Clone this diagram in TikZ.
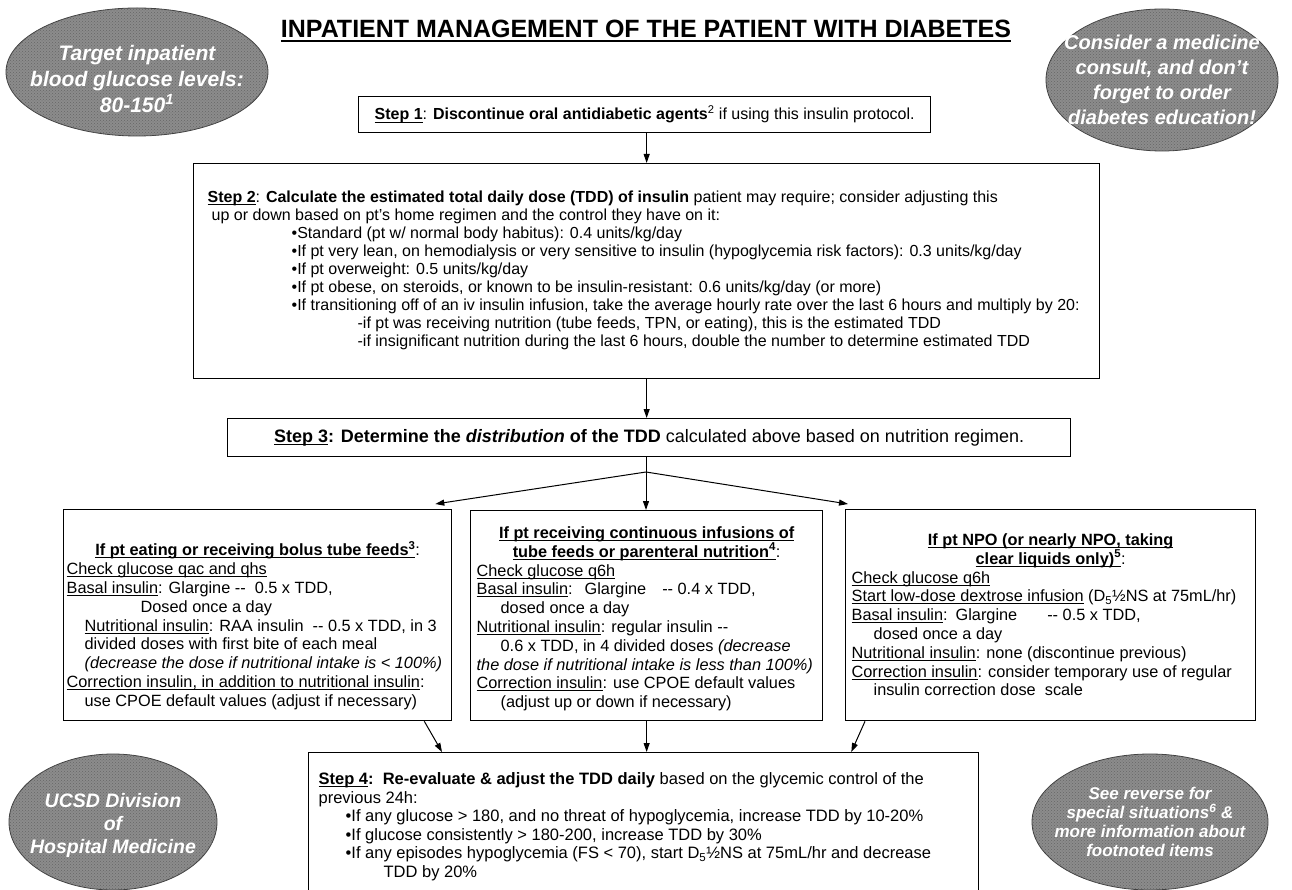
\documentclass[tikz,border=0pt]{standalone}
\usepackage{fontspec}
\setmainfont{Liberation Sans}
\usetikzlibrary{arrows.meta,patterns}
\newsavebox{\ulbox}
\newcommand{\ulthick}{1pt}
\newcommand{\uldepth}{2.6pt}
\newcommand{\uln}[1]{\leavevmode\sbox{\ulbox}{#1}\rlap{\rule[-\uldepth]{\wd\ulbox}{\ulthick}}\usebox{\ulbox}}
\newcommand{\dbldash}{\mbox{-}\mbox{-}}

\begin{document}
\begin{tikzpicture}[x=1pt, y=-1pt,
    stepbox/.style={draw=black, line width=1.3pt, inner ysep=0pt, inner xsep=14pt,
        anchor=north west, font=\fontsize{16}{18}\selectfont},
    optbox/.style={draw=black, line width=1.3pt, inner ysep=0pt, inner xsep=6pt,
        anchor=north west, font=\fontsize{16.3}{18.8}\selectfont},
    arr/.style={-{Triangle[length=9pt,width=6pt]}, line width=1pt},
    oval/.style={fill=ovalGrey, draw=black!75, line width=0.8pt,
        postaction={pattern=crosshatch dots, pattern color=black!60}},
    ovaltext/.style={text=white, align=center}]

    \definecolor{ovalGrey}{HTML}{8C8C8C}

    % Page
    \useasboundingbox (0,0) rectangle (1292,890);
    \fill[white] (0,0) rectangle (1292,890);

    % Title
    \node[anchor=base] (title) at (646,38)
        {\fontsize{25}{30}\selectfont\bfseries\renewcommand{\ulthick}{1.8pt}\renewcommand{\uldepth}{3.6pt}%
         \uln{INPATIENT MANAGEMENT OF THE PATIENT WITH DIABETES}};

    % Corner ovals
    \path[oval] (137,72) ellipse [x radius=131, y radius=64];
    \node[ovaltext, font=\fontsize{21}{26}\selectfont\bfseries\itshape] (target) at (137,79)
        {Target inpatient\\blood glucose levels:\\80-150\textsuperscript{1}};

    \path[oval] (1162,80) ellipse [x radius=116, y radius=71];
    \node[ovaltext, font=\fontsize{20}{25}\selectfont\bfseries\itshape] (consult) at (1162,80)
        {Consider a medicine\\consult, and don't\\forget to order\\diabetes education!};

    \path[oval] (113,822) ellipse [x radius=104, y radius=68];
    \node[ovaltext, font=\fontsize{19.5}{23}\selectfont\bfseries\itshape] (ucsd) at (113,825)
        {UCSD Division\\of\\Hospital Medicine};

    \path[oval] (1150,822) ellipse [x radius=118, y radius=68];
    \node[ovaltext, font=\fontsize{17}{19}\selectfont\bfseries\itshape] (reverse) at (1150,822)
        {See reverse for\\special situations\textsuperscript{6} \&\\more information about\\footnoted items};

    % Steps 1 to 3
    \node[stepbox, inner xsep=8pt, minimum width=572, minimum height=36] (step1) at (358,96)
        {\textbf{\uln{Step 1}}: \textbf{Discontinue oral antidiabetic agents}\textsuperscript{2} if using this insulin protocol.};

    \node[stepbox] (step2) at (193,163) {\parbox[b][215pt][t]{878pt}{\raggedright\vspace*{27pt}%
        \textbf{\uln{Step 2}}: \textbf{Calculate the estimated total daily dose (TDD) of insulin} patient may require; consider adjusting this\\
        \hspace*{4pt}up or down based on pt's home regimen and the control they have on it:\\
        \hspace*{84pt}•Standard (pt w/ normal body habitus): 0.4 units/kg/day\\
        \hspace*{84pt}•If pt very lean, on hemodialysis or very sensitive to insulin (hypoglycemia risk factors): 0.3 units/kg/day\\
        \hspace*{84pt}•If pt overweight: 0.5 units/kg/day\\
        \hspace*{84pt}•If pt obese, on steroids, or known to be insulin-resistant: 0.6 units/kg/day (or more)\\
        \hspace*{84pt}•If transitioning off of an iv insulin infusion, take the average hourly rate over the last 6 hours and multiply by 20:\\
        \hspace*{150pt}-if pt was receiving nutrition (tube feeds, TPN, or eating), this is the estimated TDD\\
        \hspace*{150pt}-if insignificant nutrition during the last 6 hours, double the number to determine estimated TDD}};

    \node[stepbox, font=\fontsize{18}{21}\selectfont, minimum width=843, minimum height=38] (step3) at (227,418)
        {\textbf{\uln{Step 3}: Determine the \textit{distribution} of the TDD} calculated above based on nutrition regimen.};

    % Nutrition regimens
    \node[optbox, inner xsep=3pt] (eat) at (63,509) {\parbox[b][211pt][t]{382pt}{\raggedright\vspace*{32pt}%
        {\centering\textbf{\uln{If pt eating or receiving bolus tube feeds\textsuperscript{3}}}:\par}
        \uln{Check glucose qac and qhs}\\
        \uln{Basal insulin}: Glargine \dbldash\ \ 0.5 x TDD,\\
        \hspace*{74pt}Dosed once a day\\
        \hspace*{18pt}\uln{Nutritional insulin}: RAA insulin \ \dbldash\ 0.5 x TDD, in 3\\
        \hspace*{18pt}divided doses with first bite of each meal\\
        \hspace*{18pt}\textit{(decrease the dose if nutritional intake is < 100\%)}\\
        \uln{Correction insulin, in addition to nutritional insulin}:\\
        \hspace*{18pt}use CPOE default values (adjust if necessary)}};

    \node[optbox] (cont) at (470,510) {\parbox[b][210pt][t]{340pt}{\raggedright\vspace*{16pt}%
        {\centering\textbf{\uln{If pt receiving continuous infusions of}}\\
         \textbf{\uln{tube feeds or parenteral nutrition\textsuperscript{4}}}:\par}
        \uln{Check glucose q6h}\\
        \uln{Basal insulin}:\hspace{12pt}Glargine\hspace{16pt}\dbldash\ 0.4 x TDD,\\
        \hspace*{24pt}dosed once a day\\
        \uln{Nutritional insulin}: regular insulin \dbldash\\
        \hspace*{24pt}0.6 x TDD, in 4 divided doses \textit{(decrease}\\
        \textit{the dose if nutritional intake is less than 100\%)}\\
        \uln{Correction insulin}: use CPOE default values\\
        \hspace*{24pt}(adjust up or down if necessary)}};

    \node[optbox] (npo) at (845,509) {\parbox[b][211pt][t]{398pt}{\raggedright\vspace*{24pt}%
        {\centering\textbf{\uln{If pt NPO (or nearly NPO, taking}}\\
         \textbf{\uln{clear liquids only)\textsuperscript{5}}}:\par}
        \uln{Check glucose q6h}\\
        \uln{Start low-dose dextrose infusion} (D\textsubscript{5}½NS at 75mL/hr)\\
        \uln{Basal insulin}:\hspace{8pt}Glargine\hspace{30pt}\dbldash\ 0.5 x TDD,\\
        \hspace*{22pt}dosed once a day\\
        \uln{Nutritional insulin}: none (discontinue previous)\\
        \uln{Correction insulin}: consider temporary use of regular\\
        \hspace*{22pt}insulin correction dose\ \ scale}};

    % Step 4
    \node[stepbox, inner xsep=10pt, font=\fontsize{16.5}{18.5}\selectfont] (step4) at (308,752)
        {\parbox[b][160pt][t]{650pt}{\raggedright\vspace*{20pt}%
        \textbf{\uln{Step 4}:}\ \ \textbf{Re-evaluate \& adjust the TDD daily} based on the glycemic control of the\\
        previous 24h:\\
        \hspace*{27pt}•If any glucose > 180, and no threat of hypoglycemia, increase TDD by 10-20\%\\
        \hspace*{27pt}•If glucose consistently > 180-200, increase TDD by 30\%\\
        \hspace*{27pt}•If any episodes hypoglycemia (FS < 70), start D\textsubscript{5}½NS at 75mL/hr and decrease\\
        \hspace*{65pt}TDD by 20\%}};

    % Connectors
    \coordinate (split) at (646,472);
    \draw[arr] (step2.north |- step1.south) -- (step2.north);
    \draw[arr] (step2.south) -- (step2.south |- step3.north);
    \draw[line width=1pt] (step3.south -| split) -- (split);
    \draw[arr] (split) -- ([xshift=-17pt, yshift=5pt]eat.north east);
    \draw[arr] (split) -- (split |- cont.north);
    \draw[arr] (split) -- ([xshift=3pt, yshift=5pt]npo.north west);
    \draw[arr] ([xshift=-28pt]eat.south east) -- ([xshift=134pt]step4.north west);
    \draw[arr] (cont.south) -- (cont.south |- step4.north);
    \draw[arr] ([xshift=20pt]npo.south west) -- ([xshift=-128pt]step4.north east);

\end{tikzpicture}
\end{document}
